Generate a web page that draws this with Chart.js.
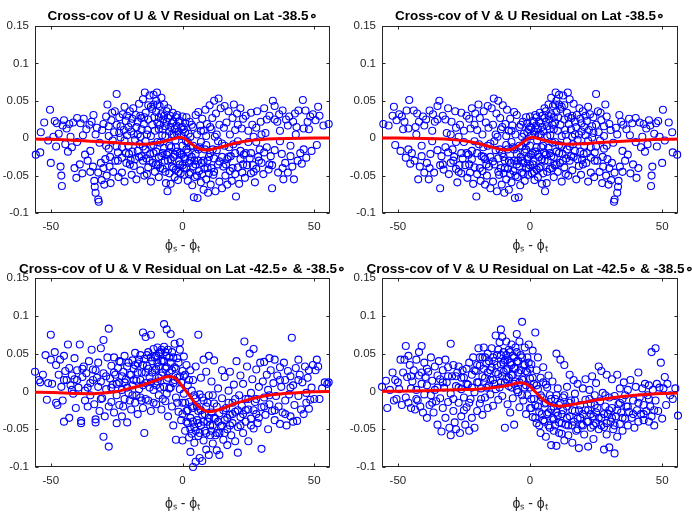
<!DOCTYPE html>
<html><head><meta charset="utf-8">
<script src="https://cdn.jsdelivr.net/npm/chart.js@4/dist/chart.umd.min.js"></script>
<style>
html,body{margin:0;padding:0;background:#fff;}
body{width:692px;height:519px;position:relative;overflow:hidden;}
canvas{position:absolute;}
</style></head><body>
<canvas id="c0" width="365" height="259" style="left:0;top:0;width:365px;height:259px"></canvas>
<canvas id="c1" width="368" height="259" style="left:346px;top:0;width:368px;height:259px"></canvas>
<canvas id="c2" width="365" height="260" style="left:0;top:259px;width:365px;height:260px"></canvas>
<canvas id="c3" width="368" height="260" style="left:346px;top:259px;width:368px;height:260px"></canvas>
<script>
// ---- data ----
const titles = [
  'Cross-cov of U & V Residual on Lat -38.5\u2218',
  'Cross-cov of V & U Residual on Lat -38.5\u2218',
  'Cross-cov of U & V Residual on Lat -42.5\u2218 & -38.5\u2218',
  'Cross-cov of V & U Residual on Lat -42.5\u2218 & -38.5\u2218'
];
const xLabel = '\u03d5\u209b - \u03d5\u209c';
const xTicks = [-50, 0, 50];
const yTicks = [-0.1, -0.05, 0, 0.05, 0.1, 0.15];

// lags for the fitted (red) curves
const lagLine = [-56,-50,-45,-40,-35,-30,-25,-20,-15,-13,-11,-9,-7,-5,-3,-1,0,1,3,5,7,9,11,13,15,20,25,30,35,40,45,50,56];
const fitTL = [-.0012,-.0015,-.002,-.003,-.004,-.005,-.006,-.0075,-.008,-.0078,-.007,-.0058,-.0043,-.0025,-.0005,.0012,.0008,-.001,-.0065,-.0115,-.0148,-.0157,-.0148,-.0133,-.0115,-.0068,-.0035,-.0018,-.0008,-.0003,0,.0002,.0003];
const fitTR = [.0003,.0002,0,-.0003,-.0008,-.0018,-.0035,-.0068,-.0115,-.0133,-.0148,-.0157,-.0148,-.0115,-.0065,-.001,.0008,.0012,-.0005,-.0025,-.0043,-.0058,-.007,-.0078,-.008,-.0075,-.006,-.005,-.004,-.003,-.002,-.0015,-.0012];
const fitBL = [-.001,-.0015,-.002,-.0028,-.003,-.002,0,.004,.0085,.011,.0135,.016,.0185,.0198,.018,.011,.0065,.002,-.007,-.016,-.0225,-.0262,-.0265,-.025,-.023,-.016,-.011,-.0068,-.0042,-.0025,-.0013,-.0005,0];
const fitBR = [0,.0003,.0006,.001,.0015,.002,.0025,.003,.0045,.0055,.0063,.0075,.009,.011,.0115,.009,.0065,.003,-.004,-.011,-.016,-.0185,-.0195,-.019,-.018,-.0148,-.0115,-.009,-.0068,-.005,-.0037,-.0028,-.0022];

// empirical cross-covariances [lag, value]
const ptsTL = [[-55.7,-.022],[-54,-.019],[-53.8,.008],[-52.5,.021],[-51,-.003],[-50.3,.038],[-50,-.033],[-49,.002],
[-48.5,.023],[-48,-.011],[-47.7,.02],[-47,.006],[-46.3,-.038],[-46,-.05],[-45.8,-.064],[-45.5,.017],[-45,.024],[-44.5,-.008],
[-44,.013],[-43.5,-.018],[-43,.019],[-42.5,.002],[-42,-.012],[-41.5,.021],[-41,-.04],[-40.3,-.053],[-40,.027],[-40,-.005],
[-39,-.035],[-38.7,.02],[-38,-.047],[-37.8,.004],[-37.5,.026],[-37,-.022],[-36.5,.012],[-36,-.03],[-35.3,.018],[-35,-.045],[-35,-.017],
[-34.5,.022],[-34,-.038],[-33.8,.031],[-33.5,-.057],[-33.3,-.065],[-33,-.073],[-33,.005],[-32.5,.014],[-32,-.082],[-32,-.046],[-31.8,-.085],[-31.5,-.006],[-31,-.033],[-30.7,-.056],[-30.5,.011],[-30,.019],[-30,-.04],
[-29.7,-.062],[-29.3,-.028],[-29,.029],[-28.8,-.05],[-28.5,.045],[-28,-.014],[-28,.016],[-27.7,-.038],[-27.3,-.06],[-27,.024],[-26.7,.034],[-26.5,-.003],[-26.3,-.045],[-25.7,.036],[-25.5,-.03],[-25,.059],[-25,-.011],
[-24.5,-.019],[-24.3,-.052],[-24,.007],[-24,.028],[-23.5,.001],[-23,-.026],[-23,-.046],[-22.7,.032],[-22.3,.011],[-22,-.058],[-22,.042],[-21.5,.023],[-21.3,-.033],[-21,.004],[-20.5,.015],[-20.3,-.021],[-20,.036],
[-19.7,-.029],[-19.5,.009],[-19.3,-.049],[-19,.026],[-18.7,.04],[-18.5,-.037],[-18,-.002],[-17.7,.031],[-17.5,-.055],[-17,-.017],[-17,.022],[-16.5,.046],[-16.3,-.008],[-16,-.043],[-15.7,.027],[-15.5,-.024],[-15,.052],[-15,-.011],
[-14.7,.019],[-14.5,-.05],[-14.3,.061],[-14,-.004],[-14,.034],[-13.7,-.027],[-13.3,.011],[-13,.044],[-13,-.039],[-12.5,.057],[-12.3,-.021],[-12,.003],[-12,-.058],[-11.5,.039],[-11.3,-.033],[-11,.058],[-11,-.009],[-10.7,.028],[-10.5,-.045],[-10,.05],[-10,-.018],
[-9.7,.061],[-9.5,.021],[-9.3,-.036],[-9,.012],[-9,-.052],[-8.7,.043],[-8.5,-.006],[-8,-.024],[-8,.054],[-7.7,.004],[-7.5,-.041],[-7.3,.025],[-7,-.013],[-7,.045],[-6.7,-.03],[-6.5,.016],[-6.3,-.06],[-6,.036],[-5.7,-.071],[-5.5,.027],[-5.3,-.019],[-5,.009],[-5,-.047],
[-4.7,.03],[-4.5,-.061],[-4.3,-.012],[-4,.02],[-4,-.038],[-3.7,.034],[-3.5,-.025],[-3.3,.005],[-3,-.052],[-2.7,-.003],[-2.5,-.042],[-2.3,.017],[-2,-.018],[-2,.031],[-1.7,-.056],[-1.5,.009],[-1.3,-.031],[-1,.023],[-0.7,-.047],[-0.5,.014],[-0.3,-.022],[0,.029],[0,-.036],
[0.5,.012],[0.7,-.049],[1,-.028],[1,.02],[1.3,-.004],[1.5,-.04],[2,-.019],[2,-.057],[2.3,.006],[2.5,-.033],[2.7,.022],[3,-.011],[3,-.046],[3.5,-.025],[3.7,-.063],[4,.015],[4,-.038],[4.3,-.079],[4.7,-.052],[5,.031],[5,-.021],
[5.5,.005],[5.7,-.08],[6,-.015],[6,.035],[6.3,-.044],[6.7,.017],[7,-.059],[7,-.005],[7.3,-.033],[7.5,.026],[8,-.069],[8,.01],[8.3,-.041],[8.7,.038],[9,-.009],[9,-.055],[9.3,.019],[9.5,-.03],[9.7,-.073],[10,-.047],
[10.3,.044],[10.5,-.02],[10.7,-.062],[11,.012],[11.3,.027],[11.7,-.049],[12,.05],[12,-.027],[12.3,.002],[12.5,-.071],[12.7,.033],[13,-.016],[13.5,-.004],[13.7,.053],[14,-.031],[14,-.058],[14.5,.04],[15,-.007],[15,-.067],
[15.5,-.038],[15.7,.014],[16,.043],[16.3,-.05],[16.7,.021],[17,-.028],[17,-.062],[17.5,.036],[17.7,-.012],[18,-.044],[18.3,-.024],[18.7,-.057],[19,.027],[19.3,-.008],[19.5,.045],[20,-.048],[20,.011],
[20.3,-.078],[20.7,.033],[21,-.004],[21,-.039],[21.5,-.061],[22,-.017],[22,.04],[22.5,.013],[22.7,-.046],[23,.026],[23.3,-.022],[23.7,-.053],[24,.03],[24.5,-.036],[25,-.005],
[25.5,-.027],[26,-.047],[26,.034],[26.5,.018],[26.7,-.036],[27,.002],[27.5,-.059],[28,.014],[28,-.041],[28.3,.036],[28.7,-.025],[29.3,-.015],[29.7,.022],[30,-.033],
[30.7,-.048],[31,.04],[31,-.019],[31.5,.007],[32,.025],[32.7,-.042],[33,.03],[33.5,-.024],[34,-.067],[34,-.036],[34.3,.05],[35,.043],[35,-.016],
[36,.022],[36.3,-.046],[36.7,.032],[37,-.004],[37.7,-.021],[38,.037],[38.3,-.055],[39,-.033],[39.3,.025],[40,.017],[40,-.046],
[40.5,.029],[41,-.024],[41.7,-.038],[42,.022],[42.3,-.055],[42.7,.033],[43.3,.015],[43.7,-.03],[44,.037],[44.7,-.02],
[45.3,-.034],[45.7,.051],[46,.013],[46.7,.037],[47,-.026],[47.5,.022],[48.5,.029],[49,-.017],[49.5,.032],
[50.5,.024],[51,-.009],[51.5,.042],[52,.03],[53.5,.017],[55.5,.019],
[-29,-.01],[-28,.003],[-27.5,-.025],[-26,.008],[-25,.018],[-24.5,-.03],[-23.5,.016],[-23,-.012],[-22,-.003],[-21.5,-.02],[-21,.03],[-20.5,-.01],[-20,-.035],[-19.5,.02],[-19,-.018],[-18.5,.005],[-18,-.028],[-17.5,.015],[-17,.005],[-16.5,-.025],[-16,.03],[-16,.002],[-15.5,.012],[-15,-.03],[-14.5,.028],[-14,-.015],[-13.5,.005],[-13.5,-.048],[-13,.025],[-12.5,-.03],[-12,.042],[-12,-.01],[-11.5,.018],[-11,-.02],[-11,.045],[-10.5,.01],[-10,-.035],[-10,.035],[-9.5,-.005],[-9.5,.045],[-9,-.025],[-9,.028],[-8.5,.018],[-8.5,-.04],[-8,.032],[-7.5,-.02],[-7.5,.012],[-7,.03],[-6.5,-.045],[-6.5,.003],[-6,-.022],[-6,.022],[-5.5,-.03],[-5.5,.04],[-5,-.01],[-4.5,.015],[-4.5,-.028],[-4,.005],[-3.5,-.04],[-3.5,.022],[-3,.012],[-3,-.022],[-2.5,.028],[-2.5,-.012],[-2,.005],[-1.5,-.045],[-1.5,.022],[-1,-.02],[-1,-.035],[-0.5,.003],[0,-.01],[0,.015],[0.5,-.025],[0.5,-.04],[1,.008],[1.5,-.015],[1.5,.028],[2,-.005],[2.5,-.048],[3,.002],[3,-.03],[3.5,.018],[4,-.01],[4.5,-.03],[5,-.035],[5.5,-.05],[6,-.03],[6.5,-.012],[7,.01],[7.5,-.048],[8,-.03],[8.5,-.015],[9,.003],[9.5,-.04],[10,-.025],[10.5,.015],[11,-.04],[11.5,-.015],[12,-.045],[13,.005],[13.5,-.035],[14,.018],[15,-.025],[16,-.01],[16.5,-.035],[17.5,-.025],[18,.005],[19,-.04],[20,-.02],[21,.018],[22,-.028],[23,-.035],[24,-.02],[25,.01],[26,-.02],[27,-.045],[28,-.005],[29,-.03],[30,.005],[32,-.012],[33,-.035],[35,.025],[37,.01],[38,-.04],[41,-.01],[43,.005],[46,-.015],[48,.012]];

const ptsTR = [[55.7,-.022],[54,-.019],[53.8,.008],[52.5,.021],[51,-.003],[50.3,.038],[50,-.033],[49,.002],
[48.5,.023],[48,-.011],[47.7,.02],[47,.006],[46.3,-.038],[46,-.05],[45.8,-.064],[45.5,.017],[45,.024],[44.5,-.008],
[44,.013],[43.5,-.018],[43,.019],[42.5,.002],[42,-.012],[41.5,.021],[41,-.04],[40.3,-.053],[40,.027],[40,-.005],
[39,-.035],[38.7,.02],[38,-.047],[37.8,.004],[37.5,.026],[37,-.022],[36.5,.012],[36,-.03],[35.3,.018],[35,-.045],[35,-.017],
[34.5,.022],[34,-.038],[33.8,.031],[33.5,-.057],[33.3,-.065],[33,-.073],[33,.005],[32.5,.014],[32,-.082],[32,-.046],[31.8,-.085],[31.5,-.006],[31,-.033],[30.7,-.056],[30.5,.011],[30,.019],[30,-.04],
[29.7,-.062],[29.3,-.028],[29,.029],[28.8,-.05],[28.5,.045],[28,-.014],[28,.016],[27.7,-.038],[27.3,-.06],[27,.024],[26.7,.034],[26.5,-.003],[26.3,-.045],[25.7,.036],[25.5,-.03],[25,.059],[25,-.011],
[24.5,-.019],[24.3,-.052],[24,.007],[24,.028],[23.5,.001],[23,-.026],[23,-.046],[22.7,.032],[22.3,.011],[22,-.058],[22,.042],[21.5,.023],[21.3,-.033],[21,.004],[20.5,.015],[20.3,-.021],[20,.036],
[19.7,-.029],[19.5,.009],[19.3,-.049],[19,.026],[18.7,.04],[18.5,-.037],[18,-.002],[17.7,.031],[17.5,-.055],[17,-.017],[17,.022],[16.5,.046],[16.3,-.008],[16,-.043],[15.7,.027],[15.5,-.024],[15,.052],[15,-.011],
[14.7,.019],[14.5,-.05],[14.3,.061],[14,-.004],[14,.034],[13.7,-.027],[13.3,.011],[13,.044],[13,-.039],[12.5,.057],[12.3,-.021],[12,.003],[12,-.058],[11.5,.039],[11.3,-.033],[11,.058],[11,-.009],[10.7,.028],[10.5,-.045],[10,.05],[10,-.018],
[9.7,.061],[9.5,.021],[9.3,-.036],[9,.012],[9,-.052],[8.7,.043],[8.5,-.006],[8,-.024],[8,.054],[7.7,.004],[7.5,-.041],[7.3,.025],[7,-.013],[7,.045],[6.7,-.03],[6.5,.016],[6.3,-.06],[6,.036],[5.7,-.071],[5.5,.027],[5.3,-.019],[5,.009],[5,-.047],
[4.7,.03],[4.5,-.061],[4.3,-.012],[4,.02],[4,-.038],[3.7,.034],[3.5,-.025],[3.3,.005],[3,-.052],[2.7,-.003],[2.5,-.042],[2.3,.017],[2,-.018],[2,.031],[1.7,-.056],[1.5,.009],[1.3,-.031],[1,.023],[0.7,-.047],[0.5,.014],[0.3,-.022],[0,.029],[0,-.036],
[-0.5,.012],[-0.7,-.049],[-1,-.028],[-1,.02],[-1.3,-.004],[-1.5,-.04],[-2,-.019],[-2,-.057],[-2.3,.006],[-2.5,-.033],[-2.7,.022],[-3,-.011],[-3,-.046],[-3.5,-.025],[-3.7,-.063],[-4,.015],[-4,-.038],[-4.3,-.079],[-4.7,-.052],[-5,.031],[-5,-.021],
[-5.5,.005],[-5.7,-.08],[-6,-.015],[-6,.035],[-6.3,-.044],[-6.7,.017],[-7,-.059],[-7,-.005],[-7.3,-.033],[-7.5,.026],[-8,-.069],[-8,.01],[-8.3,-.041],[-8.7,.038],[-9,-.009],[-9,-.055],[-9.3,.019],[-9.5,-.03],[-9.7,-.073],[-10,-.047],
[-10.3,.044],[-10.5,-.02],[-10.7,-.062],[-11,.012],[-11.3,.027],[-11.7,-.049],[-12,.05],[-12,-.027],[-12.3,.002],[-12.5,-.071],[-12.7,.033],[-13,-.016],[-13.5,-.004],[-13.7,.053],[-14,-.031],[-14,-.058],[-14.5,.04],[-15,-.007],[-15,-.067],
[-15.5,-.038],[-15.7,.014],[-16,.043],[-16.3,-.05],[-16.7,.021],[-17,-.028],[-17,-.062],[-17.5,.036],[-17.7,-.012],[-18,-.044],[-18.3,-.024],[-18.7,-.057],[-19,.027],[-19.3,-.008],[-19.5,.045],[-20,-.048],[-20,.011],
[-20.3,-.078],[-20.7,.033],[-21,-.004],[-21,-.039],[-21.5,-.061],[-22,-.017],[-22,.04],[-22.5,.013],[-22.7,-.046],[-23,.026],[-23.3,-.022],[-23.7,-.053],[-24,.03],[-24.5,-.036],[-25,-.005],
[-25.5,-.027],[-26,-.047],[-26,.034],[-26.5,.018],[-26.7,-.036],[-27,.002],[-27.5,-.059],[-28,.014],[-28,-.041],[-28.3,.036],[-28.7,-.025],[-29.3,-.015],[-29.7,.022],[-30,-.033],
[-30.7,-.048],[-31,.04],[-31,-.019],[-31.5,.007],[-32,.025],[-32.7,-.042],[-33,.03],[-33.5,-.024],[-34,-.067],[-34,-.036],[-34.3,.05],[-35,.043],[-35,-.016],
[-36,.022],[-36.3,-.046],[-36.7,.032],[-37,-.004],[-37.7,-.021],[-38,.037],[-38.3,-.055],[-39,-.033],[-39.3,.025],[-40,.017],[-40,-.046],
[-40.5,.029],[-41,-.024],[-41.7,-.038],[-42,.022],[-42.3,-.055],[-42.7,.033],[-43.3,.015],[-43.7,-.03],[-44,.037],[-44.7,-.02],
[-45.3,-.034],[-45.7,.051],[-46,.013],[-46.7,.037],[-47,-.026],[-47.5,.022],[-48.5,.029],[-49,-.017],[-49.5,.032],
[-50.5,.024],[-51,-.009],[-51.5,.042],[-52,.03],[-53.5,.017],[-55.5,.019],
[29,-.01],[28,.003],[27.5,-.025],[26,.008],[25,.018],[24.5,-.03],[23.5,.016],[23,-.012],[22,-.003],[21.5,-.02],[21,.03],[20.5,-.01],[20,-.035],[19.5,.02],[19,-.018],[18.5,.005],[18,-.028],[17.5,.015],[17,.005],[16.5,-.025],[16,.03],[16,.002],[15.5,.012],[15,-.03],[14.5,.028],[14,-.015],[13.5,.005],[13.5,-.048],[13,.025],[12.5,-.03],[12,.042],[12,-.01],[11.5,.018],[11,-.02],[11,.045],[10.5,.01],[10,-.035],[10,.035],[9.5,-.005],[9.5,.045],[9,-.025],[9,.028],[8.5,.018],[8.5,-.04],[8,.032],[7.5,-.02],[7.5,.012],[7,.03],[6.5,-.045],[6.5,.003],[6,-.022],[6,.022],[5.5,-.03],[5.5,.04],[5,-.01],[4.5,.015],[4.5,-.028],[4,.005],[3.5,-.04],[3.5,.022],[3,.012],[3,-.022],[2.5,.028],[2.5,-.012],[2,.005],[1.5,-.045],[1.5,.022],[1,-.02],[1,-.035],[0.5,.003],[0,-.01],[0,.015],[-0.5,-.025],[-0.5,-.04],[-1,.008],[-1.5,-.015],[-1.5,.028],[-2,-.005],[-2.5,-.048],[-3,.002],[-3,-.03],[-3.5,.018],[-4,-.01],[-4.5,-.03],[-5,-.035],[-5.5,-.05],[-6,-.03],[-6.5,-.012],[-7,.01],[-7.5,-.048],[-8,-.03],[-8.5,-.015],[-9,.003],[-9.5,-.04],[-10,-.025],[-10.5,.015],[-11,-.04],[-11.5,-.015],[-12,-.045],[-13,.005],[-13.5,-.035],[-14,.018],[-15,-.025],[-16,-.01],[-16.5,-.035],[-17.5,-.025],[-18,.005],[-19,-.04],[-20,-.02],[-21,.018],[-22,-.028],[-23,-.035],[-24,-.02],[-25,.01],[-26,-.02],[-27,-.045],[-28,-.005],[-29,-.03],[-30,.005],[-32,-.012],[-33,-.035],[-35,.025],[-37,.01],[-38,-.04],[-41,-.01],[-43,.005],[-46,-.015],[-48,.012]];

const ptsBL = [[-56,.026],[-54.5,.015],[-54,.012],[-53,.022],[-52,.048],[-51.5,-.011],[-51,.011],[-50,.075],[-50,.042],[-49.5,.01],
[-48.5,.052],[-48,.035],[-48,-.015],[-47.5,-.018],[-47,.022],[-46.5,.042],[-46,.006],[-45.5,-.012],[-45,.047],[-45,-.04],[-44.5,.027],[-44,.015],
[-43.5,.062],[-43,-.035],[-43,.031],[-42.5,.008],[-42,.021],[-41.5,-.003],[-41,.044],[-41,.016],[-40.5,-.022],[-40,.028],[-39.5,.005],
[-39,.062],[-38.5,-.042],[-38.5,-.039],[-38,.019],[-37.5,.033],[-37,-.012],[-37,.001],[-36.5,.024],[-36,-.02],[-35.5,.04],[-35,.011],[-35,-.005],
[-34.5,.055],[-34,.029],[-33.5,-.017],[-33,-.041],[-33,-.037],[-32.5,.018],[-32,.006],[-32,.038],[-31.5,-.026],[-31,.057],[-31,.013],[-30.5,-.009],[-30,.068],[-30,-.06],[-30,.024],
[-29.5,-.033],[-29,.003],[-28.5,.045],[-28,.083],[-28,-.073],[-27.5,.017],[-27,-.014],[-27,.034],[-26.5,.009],[-26,-.028],[-26,.045],[-25.5,.022],[-25,-.005],[-25,-.042],[-24.5,.031],[-24,.012],[-24,-.018],[-23.5,.039],[-23,-.033],[-23,.002],[-22.5,.026],[-22,-.01],[-22,.047],[-21.5,.016],[-21,-.041],[-21,.033],[-20.5,-.002],[-20,.022],
[-19.5,-.024],[-19,.041],[-19,.008],[-18.5,.03],[-18,-.015],[-18,.051],[-17.5,.014],[-17,-.03],[-17,.037],[-16.5,.003],[-16,.048],[-16,-.008],[-15.5,.025],[-15,.078],[-15,-.022],[-14.5,.043],[-14.5,-.055],[-14,.011],[-14,.072],[-13.5,.034],[-13,-.012],[-13,.052],[-12.5,.019],[-12,.075],[-12,-.026],[-11.5,.04],[-11,.002],[-11,.056],
[-10.5,.028],[-10,-.017],[-10,.047],[-9.5,.013],[-9.5,.058],[-9,.033],[-9,-.005],[-8.5,.052],[-8,.021],[-8,-.024],[-7.5,.041],[-7,.089],[-7,.006],[-7,.059],[-6.5,.03],[-6.5,-.013],[-6,.082],[-6,.047],[-6,.015],[-5.5,-.033],[-5.5,.055],[-5,.025],[-5,.004],[-4.5,.076],[-4.5,.038],[-4,-.02],[-4,.052],[-3.5,.011],[-3.5,-.045],[-3,.032],[-3,.063],[-2.5,-.008],[-2.5,-.064],[-2,.044],[-2,.018],[-1.5,-.027],[-1,.065],[-1,.003],[-1,.055],[-0.5,-.038],[0,.027],[0,-.015],[0,-.065],
[0.5,.046],[0.5,-.003],[1,-.052],[1,.022],[1.5,-.026],[1.5,.035],[2,-.042],[2,.008],[2.5,-.061],[2.5,-.014],[3,.028],[3,-.08],[3,-.035],[3.5,.001],[3.5,-.056],[4,-.1],[4,-.022],[4,.015],[4.5,-.047],[4.5,-.068],[5,-.093],[5,-.009],[5,.033],[5.5,-.038],[6,.075],[6,-.059],[6,-.026],[6.5,-.088],[6.5,-.004],[7,-.045],[7,.018],[7.5,-.092],[7.5,-.031],[8,-.065],[8,-.012],[8,.042],[8.5,-.052],[9,-.02],[9,-.077],[9,.026],[9.5,-.04],[10,-.084],[10,-.005],[10,.047],
[10.5,-.058],[11,-.028],[11,.013],[11.5,-.069],[11.5,-.045],[12,.041],[12,-.016],[12.5,-.036],[13,-.078],[13,-.055],[13.5,.004],[14,-.029],[14,-.084],[14.5,-.046],[15,.028],[15,-.009],[15.5,-.064],[16,-.038],[16,.019],[16.5,-.022],[17,-.071],[17,-.05],[17.5,.001],[18,-.031],[18,.026],[18.5,-.058],[19,-.015],[19,-.042],[19.5,.009],[20,-.066],[20,-.027],
[20.5,.04],[21,-.081],[21,-.047],[21.5,-.005],[22,-.034],[22,.021],[22.5,-.019],[23,-.055],[23,.01],[23.5,.066],[24,-.04],[24,-.01],[24.5,.033],[25,-.024],[25,-.066],[25.5,.05],[26,-.002],[26,-.036],[26.5,.016],[27,-.049],[27,.056],[27.5,-.014],[28,.029],[28,-.03],[28.5,-.042],[29,.006],[29.5,.038],[30,-.076],[30,-.021],
[30.5,.013],[31,-.008],[31,.039],[31.5,-.031],[32,.022],[32.5,-.05],[32.5,.002],[33,.044],[33,-.017],[33.5,.028],[34,-.026],[34.5,.011],[35,.042],[35,-.038],[35.5,-.006],[36,.021],[36.5,-.02],[37,.032],[37,-.043],[37.5,.006],[38,-.028],[38.5,.038],[39,-.012],[39,.015],[39.5,-.045],[40,.027],
[40.5,-.004],[41,-.033],[41,.02],[41.5,.071],[42,-.04],[42,.008],[42.5,-.018],[43,.031],[43.5,-.039],[44,.042],[44,-.006],[44.5,.022],[45,-.024],[45.5,.012],[46,-.03],[46.5,.033],[47,-.002],[47.5,.018],[48,-.023],[48,.028],[48.5,-.011],[49,.005],[49.5,.035],
[50,-.01],[50.5,.028],[51,.042],[51.5,.033],[52,-.01],[53,.004],[54,.012],[55,.01],[55.5,.012],
[-45,.015],[-42,.002],[-40,.015],[-38,.03],[-36,.005],[-34,.015],[-33,.028],[-31,-.01],[-29,.02],[-28,-.02],[-27,.005],[-26,.025],[-25,.01],[-24,.04],[-23,.02],[-22.5,-.02],[-22,.012],[-21,.005],[-20.5,.038],[-20,-.012],[-19.5,.022],[-19,-.005],[-18.5,.015],[-18,.035],[-17.5,-.005],[-17,.025],[-16.5,.042],[-16,.015],[-15.5,-.012],[-15,.035],[-15,.008],[-14,.025],[-14,-.01],[-13.5,.048],[-13,.03],[-12.5,.005],[-12,.045],[-12,.012],[-11.5,.025],[-11,-.015],[-10.5,.045],[-10,.008],[-10,.03],[-9.5,.038],[-9,.05],[-9,.018],[-8.5,.005],[-8,.04],[-8,.055],[-7.5,.025],[-7.5,-.01],[-7,.04],[-6.5,.052],[-6,.032],[-6,-.003],[-5.5,.018],[-5,.045],[-4.5,.005],[-4,.028],[-3.5,.045],[-3,.015],[-2.5,.03],[-2,-.015],[-1.5,.038],[-1,.02],[-0.5,.012],[0,-.03],[0.5,.02],[1,-.015],[1.5,-.04],[2,-.025],[2.5,.015],[3,-.05],[3.5,-.02],[4,-.04],[4.5,-.005],[5,-.052],[5.5,-.02],[6,-.042],[6.5,-.055],[7,-.025],[7.5,-.008],[8,-.04],[8.5,-.03],[9,-.055],[9.5,-.015],[10,-.035],[10.5,-.045],[11,-.052],[11.5,-.005],[12,-.035],[12.5,-.058],[13,-.02],[13.5,-.04],[14,-.055],[15,-.045],[15.5,-.025],[16,-.055],[17,-.035],[17.5,-.015],[18,-.045],[19,-.03],[20,-.01],[21,-.025],[22,-.045],[23,-.03],[24,-.025],[25,-.01],[26,-.045],[27,-.025],[28,-.01],[29,-.035],[31,-.02],[33,-.005],[35,-.025],[37,.015],[39,-.03],[41,.005],[44,.015],[47,-.015]];

const ptsBR = [[-56,.006],[-54.5,.014],[-54,-.022],[-53,.002],[-52,.025],[-51.5,-.012],[-51,.015],[-50.5,-.01],[-50,.012],[-49.5,.003],
[-49,.042],[-48.5,-.018],[-48,.025],[-47.5,.042],[-47,.06],[-47,-.008],[-46.5,.019],[-46,.047],[-46,-.015],[-45.5,.035],[-45,.004],[-45,-.022],[-44.5,.013],
[-44,.028],[-43.5,-.024],[-43,.042],[-43,.002],[-42.5,-.012],[-42,.021],[-42,.052],[-41.5,-.02],[-41,.06],[-41,.01],[-40.5,-.028],[-40,.038],[-40,-.004],
[-39.5,.019],[-39,-.035],[-39,.008],[-38.5,.026],[-38,-.018],[-37.5,.045],[-37.5,-.005],[-37,.014],[-36.5,-.028],[-36,.033],[-36,.002],[-35.5,-.013],[-35,.021],[-35,-.044],
[-34.5,.04],[-34,-.009],[-34,.016],[-33.5,-.053],[-33,.028],[-33,-.022],[-32.5,.005],[-32,.042],[-32,-.035],[-31.5,.012],[-31,-.014],[-31,.032],[-30.5,-.048],[-30,.063],[-30,-.003],[-30,-.058],
[-29.5,.02],[-29,-.026],[-29,.035],[-28.5,-.041],[-28,.007],[-28,-.05],[-27.5,.025],[-27,-.015],[-27,.033],[-26.5,-.055],[-26,.003],[-26,-.033],[-25.5,.028],[-25,-.008],[-25,.018],[-24.5,-.044],[-24,.03],[-24,-.021],[-23.5,.009],[-23,-.052],[-23,.038],[-22.5,-.01],[-22,.022],[-22,-.035],[-21.5,.045],[-21,-.001],[-21,-.048],[-20.5,.027],[-20,.012],[-20,-.026],
[-19.5,.057],[-19,.034],[-19,-.016],[-18.5,.004],[-18,.045],[-18,-.031],[-17.5,.058],[-17,.018],[-17,-.008],[-16.5,.037],[-16,-.022],[-16,.05],[-15.5,.008],[-15,.028],[-15,-.004],[-14.5,.057],[-14,.015],[-14,-.019],[-13.5,.04],[-13,.074],[-13,.003],[-12.5,.048],[-12,.023],[-12,-.011],[-11.5,.065],[-11,.082],[-11,.036],[-11,.012],
[-10.5,.072],[-10.5,-.006],[-10,.052],[-10,.026],[-9.5,-.048],[-9.5,.041],[-9,.016],[-9,.066],[-8.5,.03],[-8.5,-.017],[-8,.055],[-8,.007],[-7.5,.038],[-7.5,-.028],[-7,.062],[-7,.021],[-6.5,.047],[-6.5,-.009],[-6,.031],[-6,-.044],[-5.5,.058],[-5.5,.013],[-5,.076],[-5,.039],[-4.5,-.001],[-4.5,.025],[-4,.066],[-4,-.021],[-3.5,.048],[-3,.092],[-3,.016],[-2.5,.035],[-2.5,-.012],[-2,.058],[-2,.005],[-1.5,.027],[-1.5,-.03],[-1,.045],[-1,-.005],[-0.5,.062],[0,.017],[0,-.022],
[0.5,.036],[0.5,-.01],[1,.054],[1,-.034],[1.5,.01],[2,.078],[2,-.018],[2.5,.028],[2.5,-.042],[3,.003],[3,.045],[3.5,-.027],[4,.018],[4,-.055],[4.5,-.008],[5,.032],[5,-.038],[5.5,-.016],[6,.009],[6,-.06],[6.5,-.03],[7,.021],[7,-.045],[7.5,-.005],[8,-.071],[8,-.024],[8.5,.013],[9,-.037],[9,-.052],[9.5,-.01],[10,.05],[10,-.072],[10,-.028],
[10.5,.004],[11,-.041],[11,-.018],[11.5,.042],[12,-.056],[12,-.03],[12.5,-.008],[13,.035],[13,-.065],[13.5,-.044],[14,-.02],[14,.006],[14.5,-.058],[15,-.033],[15,.022],[15.5,-.012],[16,-.068],[16,-.045],[16.5,.015],[17,-.026],[17,-.003],[17.5,-.052],[18,-.036],[18,.01],[18.5,-.075],[19,-.018],[19.5,-.044],[20,.004],[20,-.03],
[20.5,-.057],[21,-.011],[21,.016],[21.5,-.04],[22,-.025],[22,-.073],[22.5,.002],[23,-.048],[23,-.016],[23.5,.02],[24,-.033],[24,-.063],[24.5,-.005],[25,-.042],[25,.011],[25.5,-.022],[26,.033],[26,-.05],[26.5,-.013],[27,.027],[27,-.035],[27.5,-.002],[28,-.077],[28,-.047],[28.5,-.02],[29,.022],[29,-.057],[29.5,-.03],[30,-.074],[30,-.008],
[30.5,-.04],[31,.016],[31,-.022],[31.5,-.05],[32,-.082],[32,-.006],[32.5,-.033],[33,.022],[33,-.06],[33.5,-.017],[34,-.043],[34,.004],[34.5,-.028],[35,-.052],[35,-.01],[35.5,.012],[36,-.036],[36.5,-.02],[37,.002],[37,-.045],[37.5,-.027],[38,.015],[38.5,-.035],[39,-.012],[39.5,-.048],[40,.006],
[40.5,-.025],[41,-.04],[41,.025],[41.5,-.008],[42,-.03],[42.5,.004],[43,-.018],[43,-.038],[43.5,.01],[44,-.026],[44.5,-.005],[45,.008],[45,-.04],[45.5,-.02],[46,.052],[46,-.033],[46.5,.002],[47,-.045],[47.5,.057],[47.5,-.012],[48,.01],[48.5,-.026],[49,.005],[49.5,.038],
[50,-.036],[50.5,.004],[51,.019],[51.5,-.018],[52,.01],[53,-.005],[54,-.01],[55,.004],[56,-.032],
[-45,.02],[-43,-.01],[-41,.025],[-39,.03],[-37,-.015],[-35,.005],[-33,.012],[-31,.02],[-29,-.01],[-28,.02],[-27,.005],[-26,.018],[-25,-.025],[-24,.01],[-23,-.015],[-22,.005],[-21,.028],[-20,.035],[-19.5,.012],[-19,.045],[-18.5,-.01],[-18,.02],[-17.5,.03],[-17,.045],[-16.5,.005],[-16,.025],[-15.5,.04],[-15,.015],[-14.5,.032],[-14,.045],[-13.5,.01],[-13,.025],[-12.5,.035],[-12,.055],[-11.5,.005],[-11,.048],[-10.5,.02],[-10,.038],[-9.5,.012],[-9,.028],[-9,.048],[-8.5,.042],[-8,.018],[-7.5,.052],[-7,.005],[-7,.035],[-6.5,.022],[-6,.045],[-6,.01],[-5.5,.03],[-5,.002],[-5,.052],[-4.5,.04],[-4,.012],[-3.5,.028],[-3,.045],[-3,-.005],[-2.5,.015],[-2,.035],[-1.5,.008],[-1,.025],[-0.5,.038],[0,.005],[0,.03],[0.5,-.022],[1,.018],[1.5,-.01],[2,-.035],[2.5,.008],[3,-.02],[3.5,-.045],[4,-.005],[4.5,-.03],[5,.012],[5.5,-.04],[6,-.015],[6.5,.005],[7,-.028],[7.5,-.048],[8,-.01],[8.5,-.035],[9,-.02],[9.5,-.045],[10,-.005],[10.5,-.032],[11,-.055],[11.5,-.015],[12,-.042],[12.5,-.025],[13,-.005],[14,-.035],[14.5,-.045],[15,-.015],[16,-.025],[16.5,-.04],[17,-.012],[18,-.05],[18.5,-.025],[19,-.035],[20,-.045],[21,-.025],[22,-.04],[22.5,-.01],[23,-.03],[24,-.045],[24.5,-.018],[25,-.028],[26,-.035],[27,-.045],[28,-.03],[28.5,-.005],[29,-.042],[30,-.025],[31,-.035],[32,-.045],[33,-.025],[34,-.015],[35,-.035],[36,-.005],[37,-.02],[39,-.03],[41,-.015],[43,-.03],[45,-.01],[47,-.025]];

// ---- drawing ----
const FONT = "'Liberation Sans', Arial, Helvetica, sans-serif";
const AXC = '#262626';

const framePlugin = {
  id: 'frame',
  beforeDatasetsDraw(chart) {
    const {ctx, chartArea: a, scales: {x, y}} = chart;
    const L = Math.round(a.left) + 0.5, R = Math.round(a.right) - 0.5;
    const T = Math.round(a.top) + 0.5, B = Math.round(a.bottom) - 0.5;
    const tl = 3;
    ctx.save();
    ctx.strokeStyle = AXC; ctx.lineWidth = 1;
    ctx.strokeRect(L, T, R - L, B - T);
    ctx.beginPath();
    x.ticks.forEach(t => {
      const px = Math.round(x.getPixelForValue(t.value)) + 0.5;
      ctx.moveTo(px, B); ctx.lineTo(px, B - tl);
      ctx.moveTo(px, T); ctx.lineTo(px, T + tl);
    });
    y.ticks.forEach(t => {
      const py = Math.round(y.getPixelForValue(t.value)) + 0.5;
      ctx.moveTo(L, py); ctx.lineTo(L + tl, py);
      ctx.moveTo(R, py); ctx.lineTo(R - tl, py);
    });
    ctx.stroke();
    ctx.restore();
  }
};

function panel(id, title, pts, fit, g) {
  new Chart(document.getElementById(id), {
    type: 'scatter',
    data: {
      datasets: [
        {
          type: 'line',
          data: lagLine.map((v, i) => ({x: v, y: fit[i]})),
          borderColor: '#ff0000', borderWidth: 3, pointRadius: 0,
          cubicInterpolationMode: 'monotone', fill: false
        },
        {
          type: 'scatter',
          data: pts.map(p => ({x: p[0], y: p[1]})),
          pointStyle: 'circle', pointRadius: 3.5, pointBorderWidth: 1.1,
          pointBorderColor: '#0000ff', pointBackgroundColor: 'rgba(0,0,0,0)',
          clip: false
        }
      ]
    },
    options: {
      responsive: false, animation: false, devicePixelRatio: 1, events: [],
      layout: {padding: 0},
      plugins: {
        legend: {display: false}, tooltip: {enabled: false},
        title: {
          display: true, text: title, color: '#000',
          font: {family: FONT, size: 13.5, weight: 'bold', lineHeight: 1},
          padding: {top: g.tTop, bottom: g.tBot}
        }
      },
      scales: {
        x: {
          type: 'linear', min: -56, max: 56,
          grid: {display: false, drawTicks: false}, border: {display: false},
          afterBuildTicks: s => { s.ticks = xTicks.map(v => ({value: v})); },
          ticks: {color: AXC, font: {family: FONT, size: 11.5}, padding: 7, maxRotation: 0, autoSkip: false},
          title: {display: true, text: xLabel, color: AXC, font: {family: FONT, size: 14}, padding: {top: 0, bottom: g.xlPad}},
          afterFit: s => { s.height = g.xH; }
        },
        y: {
          type: 'linear', position: 'left', min: -0.1, max: 0.15,
          grid: {display: false, drawTicks: false}, border: {display: false},
          afterBuildTicks: s => { s.ticks = yTicks.map(v => ({value: v})); },
          ticks: {color: AXC, font: {family: FONT, size: 11.5}, padding: 6, callback: v => String(v)},
          afterFit: s => { s.width = g.yW; }
        },
        yr: {
          type: 'linear', position: 'right', min: -0.1, max: 0.15, display: true,
          grid: {display: false, drawTicks: false}, border: {display: false},
          ticks: {display: false},
          afterFit: s => { s.width = g.padR; }
        }
      }
    },
    plugins: [framePlugin]
  });
}

panel('c0', titles[0], ptsTL, fitTL, {padR: 35, yW: 35, tTop: 9.5, tBot: 3, xH: 46, xlPad: 4.5});
panel('c1', titles[1], ptsTR, fitTR, {padR: 36, yW: 36, tTop: 9.5, tBot: 3, xH: 46, xlPad: 4.5});
panel('c2', titles[2], ptsBL, fitBL, {padR: 35, yW: 35, tTop: 3.25, tBot: 2.25, xH: 52, xlPad: 6.5});
panel('c3', titles[3], ptsBR, fitBR, {padR: 36, yW: 36, tTop: 3.25, tBot: 2.25, xH: 52, xlPad: 6.5});
</script>
</body></html>
